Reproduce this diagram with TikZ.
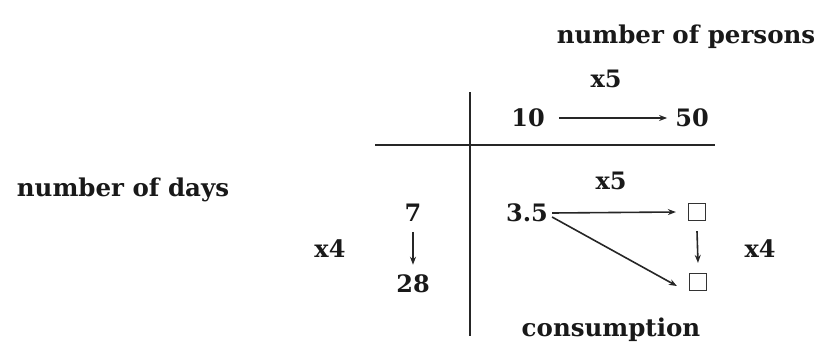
\documentclass[tikz,border=0pt]{standalone}
\usepackage{fontspec}
\setmainfont{DejaVu Serif}
\usetikzlibrary{arrows.meta}
\begin{document}
\begin{tikzpicture}[x=1pt,y=-1pt,
  lbl/.style={font=\fontsize{24.5}{28}\selectfont\bfseries, inner sep=0pt, text=black!90},
  num/.style={font=\fontsize{24}{28}\selectfont\bfseries, inner sep=0pt, text=black!90},
  sq/.style={draw=black!80, line width=1.2pt, minimum size=17pt, inner sep=0pt},
  rule/.style={line width=2pt, draw=black!85},
  arr/.style={line width=1.6pt, draw=black!85, -{Stealth[length=8pt,width=6pt]}}]
\useasboundingbox (0,0) rectangle (823,349);
\node[lbl] (persons) at (686,37) {number of persons};
\node[lbl] (days) at (123,190) {number of days};
\node[lbl] (cons) at (611,330) {consumption};
\node[num] (x5a) at (606,79) {x5};
\node[num] (x5b) at (611,181) {x5};
\node[num] (x4l) at (330,249) {x4};
\node[num] (x4r) at (760,249) {x4};
\node[num] (n10) at (528,118) {10};
\node[num] (n50) at (692,118) {50};
\node[num] (n7) at (413,213) {7};
\node[num] (n28) at (413,284) {28};
\node[num] (n35) at (527,213) {3.5};
\node[sq] (s1) at (697,212) {};
\node[sq] (s2) at (698,282) {};
\coordinate (vt) at (470,92);
\coordinate (vb) at (470,336);
\coordinate (hl) at (375,145);
\coordinate (hr) at (715,145);
\draw[rule] (vt) -- (vb);
\draw[rule] (hl) -- (hr);
\draw[arr] ([xshift=14pt]n10.east) -- ([xshift=-8pt]n50.west);
\draw[arr] ([xshift=4pt]n35.east) -- ([xshift=-12pt]s1.west);
\draw[arr] ([xshift=4pt,yshift=-4pt]n35.east) -- ([xshift=-12pt,yshift=-4pt]s2.west);
\draw[arr] ([yshift=-10pt]n7.south) -- ([yshift=10pt]n28.north);
\draw[arr] ([yshift=-10pt]s1.south) -- ([yshift=10pt]s2.north);
\end{tikzpicture}
\end{document}
